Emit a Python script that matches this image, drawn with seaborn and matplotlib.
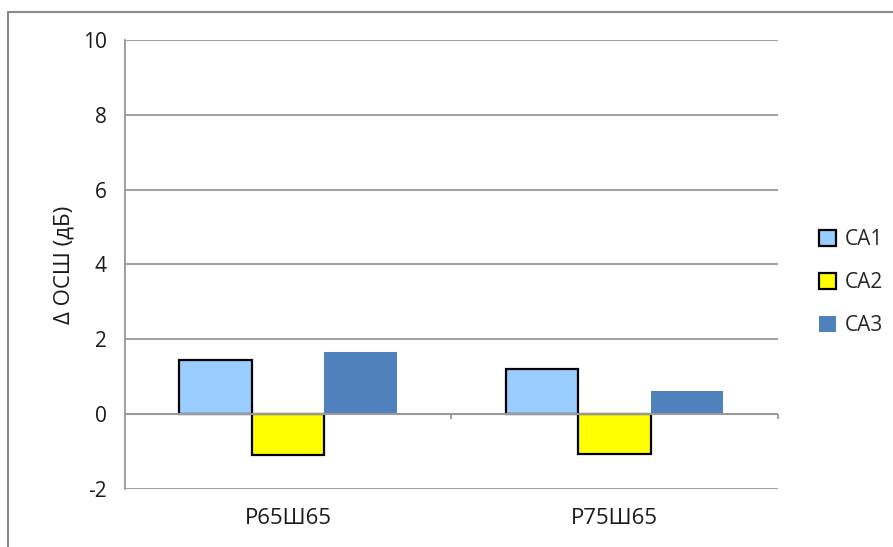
import pandas as pd
import seaborn as sn
from matplotlib import pyplot as plt
from matplotlib.patches import Rectangle

sn.set_style('white')
plt.rcParams['font.family'] = ['Open Sans', 'DejaVu Sans']
plt.rcParams['axes.unicode_minus'] = False

categories = ['Р65Ш65', 'Р75Ш65']
series = ['CA1', 'CA2', 'CA3']
ca1 = [1.44, 1.22]
ca2 = [-1.10, -1.07]
ca3 = [1.66, 0.61]
colors = ['#99CCFF', '#FFFF00', '#4F81BD']
yticks = [-2, 0, 2, 4, 6, 8, 10]

rows = []
for name, vals in zip(series, [ca1, ca2, ca3]):
    for cat, v in zip(categories, vals):
        rows.append({'cat': cat, 'series': name, 'value': v})
df = pd.DataFrame(rows)

fig = plt.figure(figsize=(8.93, 5.47), dpi=100)
ax = fig.add_axes([0.140, 0.106, 0.731, 0.821])

sn.barplot(data=df, x='cat', y='value', hue='series', hue_order=series,
           palette=colors, width=0.667, saturation=1, legend=False, ax=ax)

# black outline on the first two series only
for i, cont in enumerate(ax.containers):
    for bar in cont:
        if i < 2:
            bar.set_edgecolor('black')
            bar.set_linewidth(1.6)
        else:
            bar.set_edgecolor('none')

ax.set_xlim(-0.5, 1.5)
ax.set_ylim(-2, 10)
ax.set_yticks(yticks)
ax.yaxis.grid(True, color='#999999', linewidth=1.3)
ax.set_axisbelow(True)
ax.axhline(0, color='#999999', linewidth=1.5, zorder=1)
ax.vlines([0.5, 1.5], -0.12, 0, color='#999999', linewidth=1.3, clip_on=False)

for s in ['top', 'right', 'bottom']:
    ax.spines[s].set_visible(False)
ax.spines['left'].set_color('#999999')
ax.spines['left'].set_linewidth(1.3)

ax.tick_params(axis='y', length=7, width=1.3, color='#999999', labelsize=15, pad=6,
               labelcolor='#1a1a1a')
ax.tick_params(axis='x', length=0, labelsize=16, pad=14, labelcolor='#1a1a1a')
ax.set_xlabel('')
ax.set_ylabel('Δ ОСШ (дБ)', fontsize=16, labelpad=6, color='#1a1a1a')

ax.legend(ax.containers, series, loc='center left', bbox_to_anchor=(1.035, 0.46),
          frameon=False, fontsize=15, handlelength=0.8, handleheight=0.8,
          handletextpad=0.4, labelspacing=1.05)

fig.patches.append(Rectangle((0.009, -0.1), 1.2, 1.078, transform=fig.transFigure,
                             fill=False, edgecolor='#8c8c8c', linewidth=1.5))

fig.savefig('out.png', dpi=100)
